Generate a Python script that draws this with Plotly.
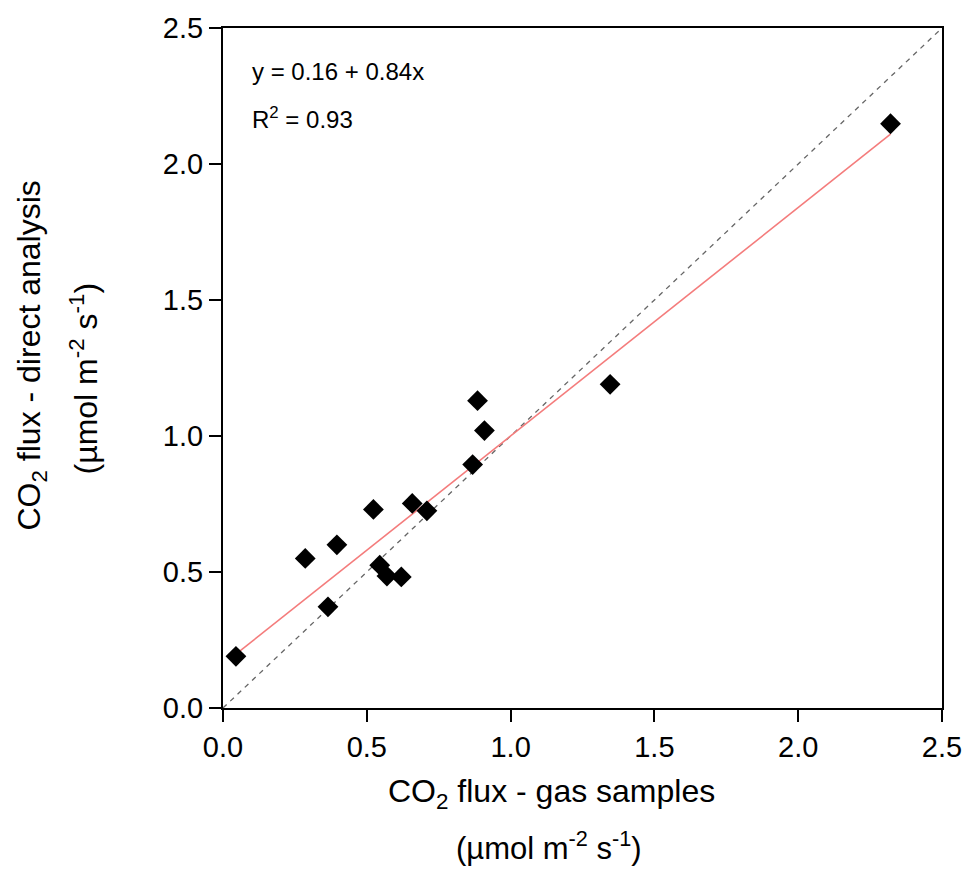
import plotly.graph_objects as go

gas_samples = [0.045, 0.286, 0.396, 0.365, 0.523, 0.545, 0.570, 0.620, 0.658, 0.709,
               0.868, 0.885, 0.909, 1.346, 2.321]
direct_analysis = [0.190, 0.550, 0.600, 0.372, 0.730, 0.525, 0.485, 0.482, 0.752, 0.725,
                   0.895, 1.130, 1.020, 1.190, 2.148]
intercept = 0.16
slope = 0.84
fit_x = [min(gas_samples), max(gas_samples)]
fit_y = [intercept + slope * v for v in fit_x]
one_to_one = [0.0, 2.5]
ticks = [0.0, 0.5, 1.0, 1.5, 2.0, 2.5]
tick_labels = ["0.0", "0.5", "1.0", "1.5", "2.0", "2.5"]

FONT = "Liberation Sans, Arial, sans-serif"

fig = go.Figure()
fig.add_trace(go.Scatter(x=one_to_one, y=one_to_one, mode="lines",
                         line=dict(color="#666666", width=1.3, dash="5px,5px"),
                         showlegend=False, hoverinfo="skip"))
fig.add_trace(go.Scatter(x=fit_x, y=fit_y, mode="lines",
                         line=dict(color="#f47c7c", width=1.6),
                         showlegend=False))
fig.add_trace(go.Scatter(x=gas_samples, y=direct_analysis, mode="markers",
                         marker=dict(symbol="diamond", size=16, color="black"),
                         showlegend=False))

axis_common = dict(range=[0, 2.5], tickvals=ticks, ticktext=tick_labels,
                   showgrid=False, zeroline=False, showline=True, linecolor="black",
                   linewidth=2, mirror=True, ticks="outside", ticklen=12, tickwidth=2,
                   tickcolor="black", ticklabeloverflow="allow",
                   tickfont=dict(family=FONT, size=29, color="black"))

fig.update_xaxes(**axis_common)
fig.update_yaxes(**axis_common)

ann = [
    dict(text="y = 0.16 + 0.84x", x=0.037, y=0.936, xanchor="left", yanchor="middle",
         font=dict(size=24)),
    dict(text="R<sup>2</sup> = 0.93", x=0.037, y=0.868, xanchor="left", yanchor="middle",
         font=dict(size=24)),
    dict(text="CO<sub>2</sub> flux - gas samples", x=0.457, y=-0.126, xanchor="center",
         yanchor="middle", font=dict(size=32)),
    dict(text="(µmol m<sup>-2</sup> s<sup>-1</sup>)", x=0.453, y=-0.203, xanchor="center",
         yanchor="middle", font=dict(size=31)),
    dict(text="CO<sub>2</sub> flux - direct analysis", x=-0.266, y=0.518, xanchor="center",
         yanchor="middle", textangle=-90, font=dict(size=32)),
    dict(text="(µmol m<sup>-2</sup> s<sup>-1</sup>)", x=-0.193, y=0.485, xanchor="center",
         yanchor="middle", textangle=-90, font=dict(size=32)),
]
for a in ann:
    a.update(xref="paper", yref="paper", showarrow=False)
    a["font"].update(family=FONT, color="black")

fig.update_layout(width=974, height=872, margin=dict(l=223, r=25, t=25, b=164),
                  plot_bgcolor="white", paper_bgcolor="white", annotations=ann,
                  font=dict(family=FONT, color="black"))

fig.write_html("out.html", config={"displayModeBar": False},
               post_script="document.body.style.margin='0';document.body.style.overflow='hidden';")
